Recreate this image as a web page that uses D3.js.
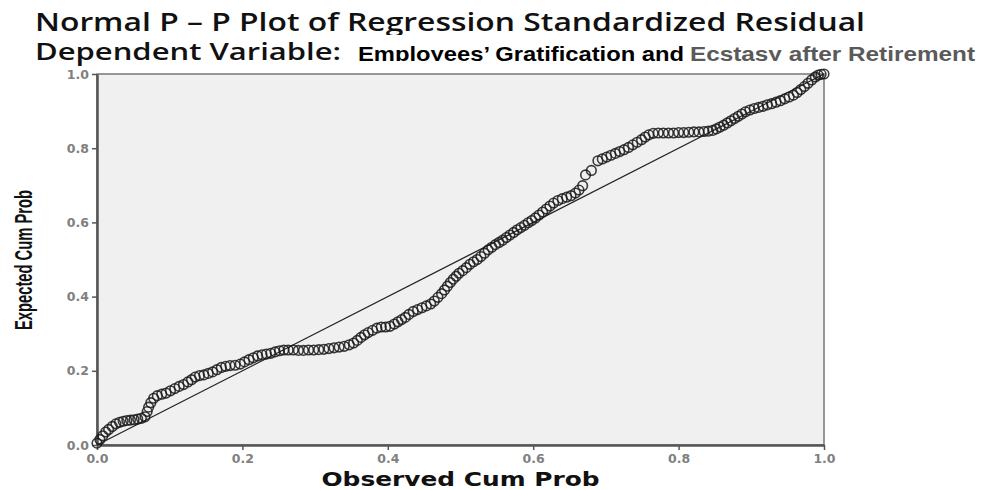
<!DOCTYPE html>
<html>
<head>
<meta charset="utf-8">
<script src="https://cdn.jsdelivr.net/npm/d3@7/dist/d3.min.js"></script>
<style>
  body { margin: 0; background: #fff; }
</style>
</head>
<body>
<svg id="chart" width="987" height="490"></svg>
<script>
// observed / expected cumulative probabilities
const observed = [
  0.000, 0.004, 0.008, 0.012, 0.016, 0.021, 0.026, 0.031, 0.036, 0.041,
  0.046, 0.051, 0.056, 0.061, 0.066, 0.069, 0.071, 0.074, 0.078, 0.083,
  0.089, 0.095, 0.101, 0.107, 0.113, 0.119, 0.125, 0.130, 0.135, 0.141,
  0.147, 0.153, 0.159, 0.165, 0.171, 0.177, 0.183, 0.190, 0.197, 0.203,
  0.209, 0.215, 0.221, 0.227, 0.233, 0.239, 0.245, 0.251, 0.257, 0.263,
  0.270, 0.277, 0.284, 0.291, 0.298, 0.305, 0.312, 0.319, 0.326, 0.333,
  0.340, 0.347, 0.353, 0.358, 0.363, 0.368, 0.373, 0.379, 0.385, 0.391,
  0.397, 0.403, 0.409, 0.414, 0.419, 0.424, 0.429, 0.435, 0.441, 0.447,
  0.453, 0.459, 0.464, 0.469, 0.474, 0.478, 0.482, 0.486, 0.490, 0.494,
  0.498, 0.503, 0.508, 0.513, 0.518, 0.523, 0.528, 0.533, 0.538, 0.543,
  0.548, 0.553, 0.558, 0.563, 0.568, 0.573, 0.578, 0.583, 0.588, 0.593,
  0.598, 0.603, 0.608, 0.613, 0.618, 0.623, 0.628, 0.634, 0.640, 0.646,
  0.652, 0.658, 0.663, 0.668, 0.672, 0.680, 0.689, 0.695, 0.701, 0.707,
  0.713, 0.719, 0.725, 0.731, 0.737, 0.743, 0.749, 0.754, 0.759, 0.765,
  0.772, 0.779, 0.786, 0.793, 0.800, 0.807, 0.814, 0.821, 0.828, 0.835,
  0.841, 0.847, 0.852, 0.857, 0.862, 0.867, 0.872, 0.877, 0.882, 0.887,
  0.892, 0.898, 0.904, 0.910, 0.916, 0.922, 0.928, 0.934, 0.940, 0.946,
  0.952, 0.958, 0.963, 0.968, 0.973, 0.978, 0.983, 0.988, 0.992, 0.996,
  1.000
];
const expected = [
  0.005, 0.015, 0.025, 0.035, 0.042, 0.050, 0.057, 0.061, 0.064, 0.066,
  0.067, 0.068, 0.070, 0.072, 0.076, 0.090, 0.102, 0.114, 0.126, 0.133,
  0.137, 0.140, 0.146, 0.152, 0.158, 0.163, 0.170, 0.176, 0.183, 0.187,
  0.189, 0.193, 0.197, 0.203, 0.209, 0.212, 0.214, 0.215, 0.218, 0.224,
  0.230, 0.235, 0.240, 0.243, 0.245, 0.247, 0.251, 0.254, 0.256, 0.256,
  0.256, 0.255, 0.255, 0.256, 0.256, 0.257, 0.258, 0.260, 0.262, 0.264,
  0.266, 0.270, 0.275, 0.282, 0.290, 0.297, 0.303, 0.309, 0.315, 0.318,
  0.318, 0.320, 0.326, 0.332, 0.338, 0.344, 0.352, 0.360, 0.365, 0.370,
  0.375, 0.380, 0.388, 0.398, 0.408, 0.418, 0.428, 0.438, 0.447, 0.455,
  0.463, 0.470, 0.478, 0.487, 0.494, 0.500, 0.508, 0.517, 0.526, 0.533,
  0.540, 0.546, 0.552, 0.559, 0.566, 0.573, 0.580, 0.586, 0.592, 0.599,
  0.605, 0.612, 0.620, 0.628, 0.636, 0.644, 0.652, 0.659, 0.664, 0.668,
  0.672, 0.679, 0.687, 0.699, 0.728, 0.740, 0.766, 0.771, 0.776, 0.781,
  0.786, 0.791, 0.796, 0.802, 0.809, 0.816, 0.823, 0.830, 0.836, 0.840,
  0.841, 0.841, 0.841, 0.841, 0.842, 0.842, 0.843, 0.844, 0.844, 0.845,
  0.846, 0.848, 0.852, 0.857, 0.862, 0.868, 0.874, 0.880, 0.886, 0.892,
  0.898, 0.903, 0.907, 0.910, 0.913, 0.917, 0.920, 0.924, 0.928, 0.933,
  0.938, 0.943, 0.950, 0.958, 0.966, 0.975, 0.984, 0.992, 0.997, 0.999,
  1.000
];
const tickValues = [0, 0.2, 0.4, 0.6, 0.8, 1.0];
const tickLabels = ["0.0", "0.2", "0.4", "0.6", "0.8", "1.0"];
const title = "Normal P \u2013 P Plot of Regression Standardized Residual";
const subtitleLead = "Dependent Variable:";
const subtitleDark = "Employees\u2019 Gratification and";
const subtitleGray = "Ecstasy after Retirement";
const xTitle = "Observed Cum Prob";
const yTitle = "Expected Cum Prob";

const W = 987, H = 490;
const margin = { top: 74, right: 163, bottom: 45, left: 97 };
const width = W - margin.left - margin.right;
const height = H - margin.top - margin.bottom;

const svg = d3.select("#chart");

// the title lines look pasted in and cut at the baseline, clip them the same way
const defs = svg.append("defs");
defs.append("clipPath").attr("id", "clipLine1")
  .append("rect").attr("x", 0).attr("y", 0).attr("width", W).attr("height", 35);
defs.append("clipPath").attr("id", "clipLine2")
  .append("rect").attr("x", 0).attr("y", 38).attr("width", W).attr("height", 23);

const titleFont = "'Open Sans', 'Noto Sans', sans-serif";
const narrowFont = "'Liberation Sans', Arial, sans-serif";

svg.append("text")
  .attr("x", 35).attr("y", 31)
  .attr("clip-path", "url(#clipLine1)")
  .attr("textLength", 830).attr("lengthAdjust", "spacingAndGlyphs")
  .style("font-family", titleFont).style("font-weight", 600)
  .style("font-size", "25px").style("fill", "#111")
  .text(title);

svg.append("text")
  .attr("x", 35).attr("y", 60)
  .attr("textLength", 306).attr("lengthAdjust", "spacingAndGlyphs")
  .style("font-family", titleFont).style("font-weight", 600)
  .style("font-size", "23px").style("fill", "#111")
  .text(subtitleLead);

svg.append("text")
  .attr("x", 358).attr("y", 61)
  .attr("clip-path", "url(#clipLine2)")
  .attr("textLength", 326).attr("lengthAdjust", "spacingAndGlyphs")
  .style("font-family", narrowFont).style("font-weight", 700)
  .style("font-size", "21px").style("fill", "#000")
  .text(subtitleDark);

svg.append("text")
  .attr("x", 690).attr("y", 61)
  .attr("clip-path", "url(#clipLine2)")
  .attr("textLength", 285).attr("lengthAdjust", "spacingAndGlyphs")
  .style("font-family", narrowFont).style("font-weight", 700)
  .style("font-size", "21px").style("fill", "#5a5a5a")
  .text(subtitleGray);

const g = svg.append("g")
  .attr("transform", "translate(" + margin.left + "," + margin.top + ")");

const xScale = d3.scaleLinear().domain([0, 1]).range([0, width]);
const yScale = d3.scaleLinear().domain([0, 1]).range([height, 0]);

// plot area
g.append("rect")
  .attr("width", width).attr("height", height)
  .style("fill", "#f0f0f0")
  .style("stroke", "#777").style("stroke-width", 1.5);

// axes
const xAxis = g.append("g")
  .attr("transform", "translate(0," + height + ")")
  .call(d3.axisBottom(xScale).tickValues(tickValues)
    .tickFormat((d, i) => tickLabels[i]).tickSizeInner(5).tickSizeOuter(0).tickPadding(4));

const yAxis = g.append("g")
  .call(d3.axisLeft(yScale).tickValues(tickValues)
    .tickFormat((d, i) => tickLabels[i]).tickSizeInner(5).tickSizeOuter(0).tickPadding(3));

[xAxis, yAxis].forEach(ax => {
  ax.select(".domain").style("stroke", "#555").style("stroke-width", 2.5);
  ax.selectAll(".tick line").style("stroke", "#555").style("stroke-width", 1.5);
  ax.selectAll(".tick text")
    .style("font-family", "'DejaVu Sans', Verdana, sans-serif")
    .style("font-weight", 700)
    .style("font-size", "12.5px")
    .style("fill", "#808080");
});

// reference diagonal
g.append("line")
  .attr("x1", xScale(0)).attr("y1", yScale(0))
  .attr("x2", xScale(1)).attr("y2", yScale(1))
  .style("stroke", "#222").style("stroke-width", 1.3);

// points
const pts = observed.map((d, i) => ({ obs: d, exp: expected[i] }));
g.selectAll(".dot")
  .data(pts)
  .enter().append("circle")
  .attr("class", "dot")
  .attr("r", 4.8)
  .attr("cx", d => xScale(d.obs))
  .attr("cy", d => yScale(d.exp))
  .style("fill", "none")
  .style("stroke", "#1a1a1a")
  .style("stroke-width", 1.6)
  .style("stroke-opacity", 0.85);

// axis titles
svg.append("text")
  .attr("x", margin.left + width / 2).attr("y", 486)
  .attr("text-anchor", "middle")
  .attr("textLength", 278).attr("lengthAdjust", "spacingAndGlyphs")
  .style("font-family", "'DejaVu Sans', Verdana, sans-serif")
  .style("font-weight", 700).style("font-size", "19px").style("fill", "#111")
  .text(xTitle);

svg.append("text")
  .attr("transform", "translate(32," + 260 + ") rotate(-90)")
  .attr("text-anchor", "middle")
  .attr("textLength", 140).attr("lengthAdjust", "spacingAndGlyphs")
  .style("font-family", narrowFont)
  .style("font-weight", 700).style("font-size", "23px").style("fill", "#111")
  .text(yTitle);
</script>
</body>
</html>
